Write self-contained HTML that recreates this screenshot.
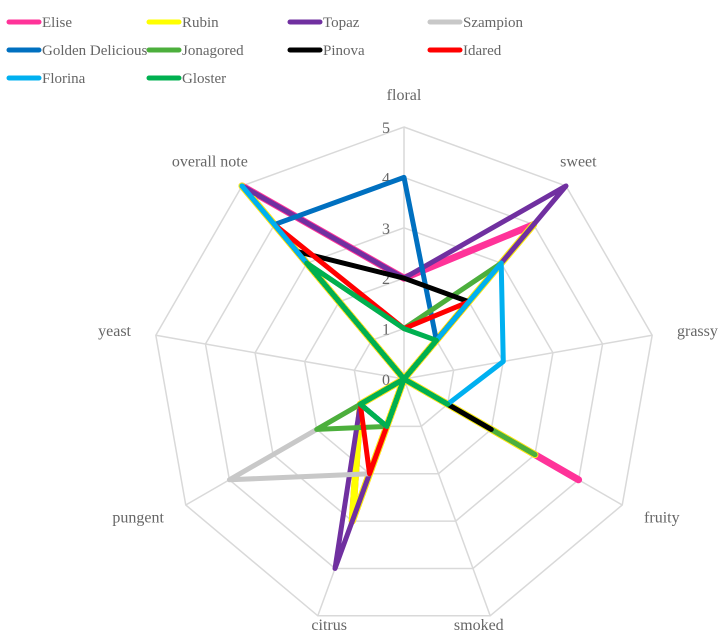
<!DOCTYPE html>
<html><head><meta charset="utf-8"><style>
body{margin:0;background:#fff;}
svg text{font-family:"Liberation Serif",serif;fill:#666;}
</style></head><body>
<svg width="721" height="639" viewBox="0 0 721 639" id="chart"></svg>
<script>
const axes=["floral","sweet","grassy","fruity","smoked","citrus","pungent","yeast","overall note"];
const seriesNames=["Elise","Rubin","Topaz","Szampion","Golden Delicious","Jonagored","Pinova","Idared","Florina","Gloster"];
const seriesColors=["#FF3399","#FFFF00","#7030A0","#C8C8C8","#0070C0","#4CAF3C","#000000","#FF0000","#00B0F0","#00B050"];
const elise=[2,4,0,4,0,3,1,0,5];
const rubin=[0,4,0,3,0,3,1,0,5];
const topaz=[2,5,0,3,0,4,1,0,5];
const szampion=[1,3,0,1,0,2,4,0,3];
const golden=[4,1,0,1,0,1,1,0,4];
const jonagored=[1,3,0,3,0,1,2,0,3];
const pinova=[2,2,0,2,0,1,1,0,3.3];
const idared=[1,2,0,0,0,2,1,0,4];
const florina=[0,3,2,1,0,1,1,0,5];
const gloster=[1,1,0,1,0,1,1,0,3];
const seriesValues=[elise,rubin,topaz,szampion,golden,jonagored,pinova,idared,florina,gloster];
const ticks=[0,1,2,3,4,5];
const NS="http://www.w3.org/2000/svg";
const svg=document.getElementById('chart');
const cx=404,cy=379,R=252,maxV=5;
function pt(i,v){const a=i*2*Math.PI/axes.length;const r=v/maxV*R;return [cx+r*Math.sin(a),cy-r*Math.cos(a)];}
function mk(tag,attrs){const e=document.createElementNS(NS,tag);for(const k in attrs)e.setAttribute(k,attrs[k]);svg.appendChild(e);return e;}
ticks.forEach(t=>{if(t===0)return;const p=axes.map((a,i)=>pt(i,t).join(',')).join(' ');
const g=mk('polygon',{points:p,fill:'none',stroke:'#d9d9d9','stroke-width':1.5});

});
axes.forEach((a,i)=>{const [x,y]=pt(i,maxV);const l=mk('line',{x1:cx,y1:cy,x2:x,y2:y,stroke:'#d9d9d9','stroke-width':1.5});


const [lx,ly]=pt(i,maxV*1.1);const ang=i*360/axes.length;
let anchor='middle';if(ang>10&&ang<170)anchor='start';if(ang>190&&ang<350)anchor='end';
let dx=0,dy=5,fy=null;if(ang===0)dy=-2;
if(Math.abs(ang-160)<1){anchor='middle';fy=630;dx=-20;}
if(Math.abs(ang-200)<1){anchor='middle';fy=630;dx=20;}
if(Math.abs(ang-40)<1){dx=-22;dy=0;} if(Math.abs(ang-320)<1){dx=22;dy=0;}
const t=mk('text',{x:lx+dx,y:fy!==null?fy:ly+dy,'text-anchor':anchor,'font-size':16});t.textContent=a;

});
ticks.forEach(t=>{const [x,y]=pt(0,t);const e=mk('text',{x:x-18,y:y+6,'text-anchor':'middle','font-size':16});e.textContent=t;

});
seriesValues.forEach((vals,s)=>{const p=vals.map((v,i)=>pt(i,v).join(',')).join(' ');
const w=s===0?7:(s===1?7:5);
const e=mk('polygon',{points:p,fill:'none',stroke:seriesColors[s],'stroke-width':w,'stroke-linejoin':'round','stroke-linecap':'round'});

});
const colX=[9,149,290,430];
seriesNames.forEach((n,s)=>{const c=s%4,r=Math.floor(s/4);const x=colX[c],y=22+r*28;
const l=mk('line',{x1:x,y1:y,x2:x+30,y2:y,stroke:seriesColors[s],'stroke-width':5,'stroke-linecap':'round'});


const t=mk('text',{x:x+33,y:y+5,'font-size':15});t.textContent=n;

});
</script>
</body></html>
